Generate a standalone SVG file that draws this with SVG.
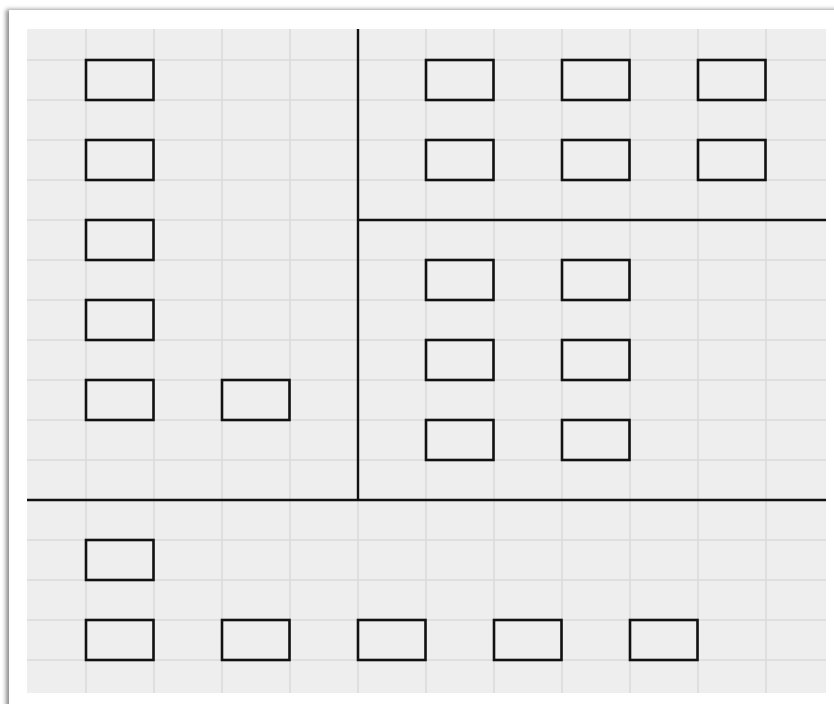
<svg xmlns="http://www.w3.org/2000/svg" width="834" height="704" viewBox="0 0 834 704">
  <defs>
    <style>
      .grid line { stroke: #dadada; stroke-width: 1.5; }
      .node rect { fill: none; stroke: #111; stroke-width: 2.6; }
      .div line { stroke: #111; stroke-width: 2.4; }
    </style>
    <filter id="sh" x="-5%" y="-5%" width="110%" height="110%">
      <feDropShadow dx="-3" dy="-0.5" stdDeviation="2" flood-color="#000" flood-opacity="0.45"/>
    </filter>
  </defs>
  <rect x="0" y="0" width="834" height="704" fill="#ffffff"/>
  <rect x="9" y="10" width="840" height="720" fill="#ffffff" filter="url(#sh)"/>
  <rect x="27" y="29" width="799" height="664" fill="#eeeeee"/>
  <g class="grid">
    <line x1="86" y1="29" x2="86" y2="693"/>
    <line x1="154" y1="29" x2="154" y2="693"/>
    <line x1="222" y1="29" x2="222" y2="693"/>
    <line x1="290" y1="29" x2="290" y2="693"/>
    <line x1="358" y1="29" x2="358" y2="693"/>
    <line x1="426" y1="29" x2="426" y2="693"/>
    <line x1="494" y1="29" x2="494" y2="693"/>
    <line x1="562" y1="29" x2="562" y2="693"/>
    <line x1="630" y1="29" x2="630" y2="693"/>
    <line x1="698" y1="29" x2="698" y2="693"/>
    <line x1="766" y1="29" x2="766" y2="693"/>
    <line x1="27" y1="60" x2="826" y2="60"/>
    <line x1="27" y1="100" x2="826" y2="100"/>
    <line x1="27" y1="140" x2="826" y2="140"/>
    <line x1="27" y1="180" x2="826" y2="180"/>
    <line x1="27" y1="220" x2="826" y2="220"/>
    <line x1="27" y1="260" x2="826" y2="260"/>
    <line x1="27" y1="300" x2="826" y2="300"/>
    <line x1="27" y1="340" x2="826" y2="340"/>
    <line x1="27" y1="380" x2="826" y2="380"/>
    <line x1="27" y1="420" x2="826" y2="420"/>
    <line x1="27" y1="460" x2="826" y2="460"/>
    <line x1="27" y1="500" x2="826" y2="500"/>
    <line x1="27" y1="540" x2="826" y2="540"/>
    <line x1="27" y1="580" x2="826" y2="580"/>
    <line x1="27" y1="620" x2="826" y2="620"/>
    <line x1="27" y1="660" x2="826" y2="660"/>
  </g>
  <g id="dividers" class="div">
    <line x1="358" y1="29" x2="358" y2="500"/>
    <line x1="358" y1="220" x2="826" y2="220"/>
    <line x1="27" y1="500" x2="826" y2="500"/>
  </g>
  <g id="n1" class="node"><rect x="86" y="60" width="67.5" height="40"/></g>
  <g id="n2" class="node"><rect x="86" y="140" width="67.5" height="40"/></g>
  <g id="n3" class="node"><rect x="86" y="220" width="67.5" height="40"/></g>
  <g id="n4" class="node"><rect x="86" y="300" width="67.5" height="40"/></g>
  <g id="n5" class="node"><rect x="86" y="380" width="67.5" height="40"/></g>
  <g id="n6" class="node"><rect x="222" y="380" width="67.5" height="40"/></g>
  <g id="n7" class="node"><rect x="426" y="60" width="67.5" height="40"/></g>
  <g id="n8" class="node"><rect x="562" y="60" width="67.5" height="40"/></g>
  <g id="n9" class="node"><rect x="698" y="60" width="67.5" height="40"/></g>
  <g id="n10" class="node"><rect x="426" y="140" width="67.5" height="40"/></g>
  <g id="n11" class="node"><rect x="562" y="140" width="67.5" height="40"/></g>
  <g id="n12" class="node"><rect x="698" y="140" width="67.5" height="40"/></g>
  <g id="n13" class="node"><rect x="426" y="260" width="67.5" height="40"/></g>
  <g id="n14" class="node"><rect x="562" y="260" width="67.5" height="40"/></g>
  <g id="n15" class="node"><rect x="426" y="340" width="67.5" height="40"/></g>
  <g id="n16" class="node"><rect x="562" y="340" width="67.5" height="40"/></g>
  <g id="n17" class="node"><rect x="426" y="420" width="67.5" height="40"/></g>
  <g id="n18" class="node"><rect x="562" y="420" width="67.5" height="40"/></g>
  <g id="n19" class="node"><rect x="86" y="540" width="67.5" height="40"/></g>
  <g id="n20" class="node"><rect x="86" y="620" width="67.5" height="40"/></g>
  <g id="n21" class="node"><rect x="222" y="620" width="67.5" height="40"/></g>
  <g id="n22" class="node"><rect x="358" y="620" width="67.5" height="40"/></g>
  <g id="n23" class="node"><rect x="494" y="620" width="67.5" height="40"/></g>
  <g id="n24" class="node"><rect x="630" y="620" width="67.5" height="40"/></g>
</svg>
